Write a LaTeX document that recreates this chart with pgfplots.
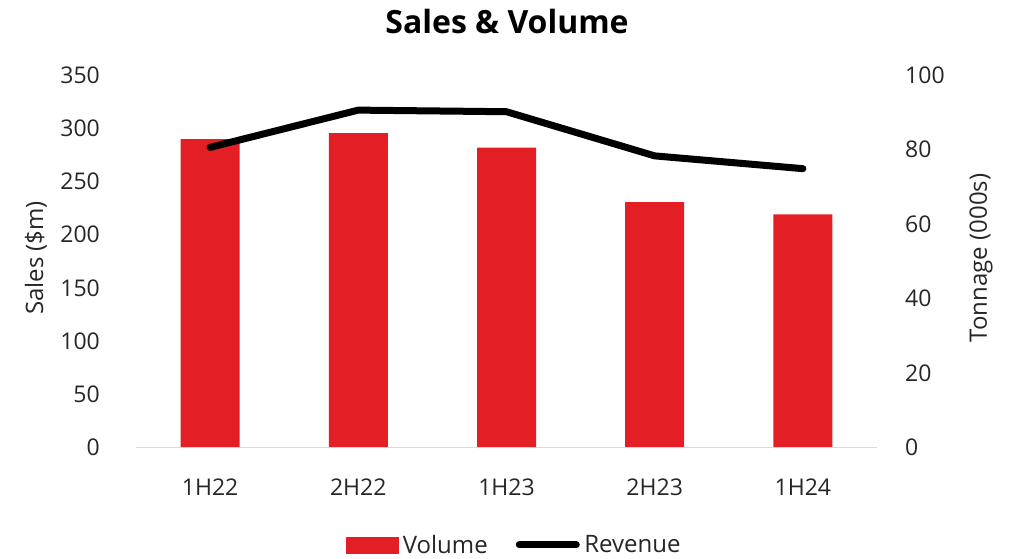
\documentclass[border=0pt]{standalone}
\usepackage{fontspec}
\setmainfont{Open Sans}
\usepackage{pgfplots}
\pgfplotsset{compat=1.18}
\definecolor{barred}{HTML}{E31E24}
\definecolor{axgray}{HTML}{D9D9D9}
\begin{document}
\begin{tikzpicture}[x=1pt,y=1pt]
\useasboundingbox (0,0) rectangle (1013,558);
\pgfplotsset{
  common/.style={
    at={(136pt,110.5pt)}, anchor=south west,
    scale only axis, width=741pt, height=372.5pt,
    xmin=-0.5, xmax=4.5,
    xtick={0,1,2,3,4},
    major tick length=0pt,
    tick style={draw=none},
    /pgf/number format/assume math mode=true,
    tick label style={font=\fontsize{23}{27}\selectfont, inner sep=0pt, text=black!85},
  }
}
% Volume bars on the right axis (tonnage, 000s)
\begin{axis}[common,
  axis x line=none,
  axis y line*=right,
  y axis line style={draw=none},
  ymin=0, ymax=100, ytick={0,20,40,60,80,100},
  yticklabel shift=28pt,
]
\addplot[ybar, bar width=59pt, fill=barred, draw=none] coordinates {
  (0,82.8) (1,84.4) (2,80.5) (3,65.9) (4,62.6)
};
\end{axis}
% Revenue line on the left axis (sales, $m)
\begin{axis}[common,
  axis x line*=bottom,
  axis y line*=left,
  y axis line style={draw=none},
  x axis line style={axgray, line width=1.5pt},
  ymin=0, ymax=350, ytick={0,50,...,350},
  yticklabel shift=36pt,
  xticklabels={1H22,2H22,1H23,2H23,1H24},
  x tick label style={anchor=base},
  xticklabel shift=48pt,
  legend columns=2,
  legend style={at={(axis description cs:0.5091,-0.2617)}, anchor=center,
    draw=none, fill=none, font=\fontsize{24}{28}\selectfont, text=black!85,
    /tikz/every odd column/.append style={column sep=4.5pt},
    /tikz/every even column/.append style={column sep=28pt},
    nodes={inner xsep=0pt, inner ysep=0pt}},
  legend cell align=left,
]
\addlegendimage{legend image code/.code={\fill[barred] (0pt,-8pt) rectangle (52pt,8pt);}}
\addlegendentry{Volume}
\addplot[black, line width=7pt, line cap=round, line join=round,
  legend image code/.code={\path (0pt,0pt) -- (57pt,0pt); \draw[black, line width=7pt, line cap=round] (3.5pt,0pt) -- (53.5pt,0pt);}]
  coordinates {(0,282) (1,317) (2,315.5) (3,274) (4,262)};
\addlegendentry{Revenue}
\end{axis}
\node[font=\bfseries\fontsize{32}{36}\selectfont] at (507,536) {Sales \& Volume};
\node[rotate=90, font=\fontsize{24}{28}\selectfont, text=black!85] at (36,300) {Sales (\$m)};
\node[rotate=90, font=\fontsize{24}{28}\selectfont, text=black!85] at (981,300) {Tonnage (000s)};
\end{tikzpicture}
\end{document}
